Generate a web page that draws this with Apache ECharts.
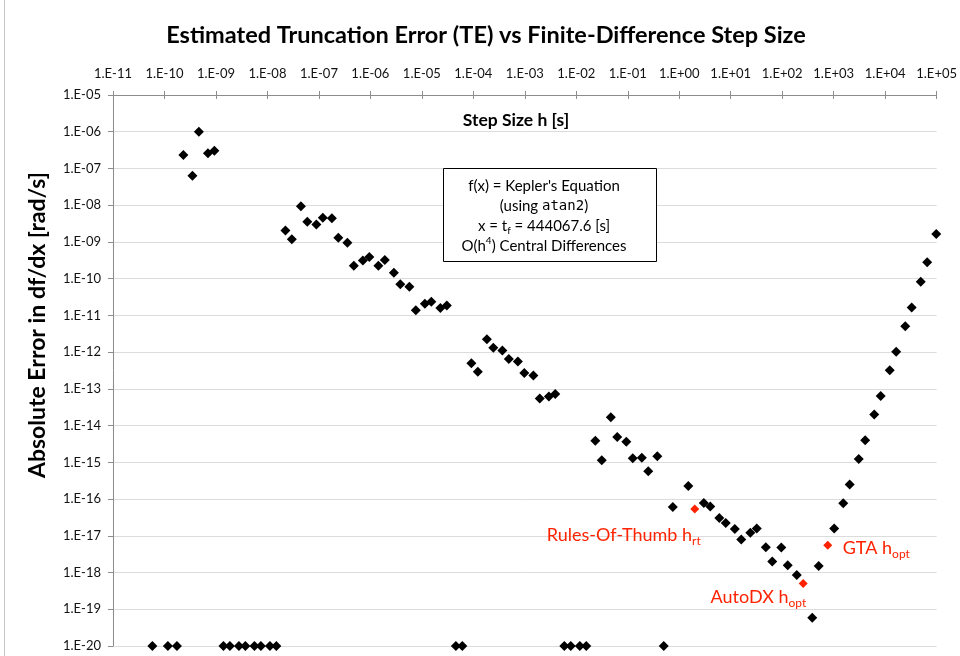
<!DOCTYPE html>
<html>
<head>
<meta charset="utf-8">
<script src="https://cdn.jsdelivr.net/npm/echarts@6/dist/echarts.min.js"></script>
<style>
  html, body { margin: 0; padding: 0; background: #ffffff; }
  #chart { width: 960px; height: 656px; }
</style>
</head>
<body>
<div id="chart"></div>
<script>
// Finite-difference step sizes h [s] (powers of two and 1.5x powers of two)
const stepSizes = [
  5.821e-11, 1.164e-10, 1.746e-10, 2.328e-10, 3.492e-10, 4.657e-10, 6.985e-10, 9.313e-10,
  1.397e-9, 1.863e-9, 2.794e-9, 3.725e-9, 5.588e-9, 7.451e-9, 1.118e-8, 1.490e-8,
  2.235e-8, 2.980e-8, 4.470e-8, 5.960e-8, 8.941e-8, 1.192e-7, 1.788e-7, 2.384e-7,
  3.576e-7, 4.768e-7, 7.153e-7, 9.537e-7, 1.431e-6, 1.907e-6, 2.861e-6, 3.815e-6,
  5.722e-6, 7.629e-6, 1.144e-5, 1.526e-5, 2.289e-5, 3.052e-5, 4.578e-5, 6.104e-5,
  9.155e-5, 1.221e-4, 1.831e-4, 2.441e-4, 3.662e-4, 4.883e-4, 7.324e-4, 9.766e-4,
  1.465e-3, 1.953e-3, 2.930e-3, 3.906e-3, 5.859e-3, 7.813e-3, 1.172e-2, 1.5625e-2,
  2.344e-2, 3.125e-2, 4.688e-2, 6.25e-2, 9.375e-2, 0.125, 0.1875, 0.25,
  0.375, 0.5, 0.75, 1.5, 3, 4, 6, 8,
  12, 16, 24, 32, 48, 64, 96, 128,
  192, 384, 512, 1024, 1536, 2048, 3072, 4096,
  6144, 8192, 12288, 16384, 24576, 32768, 49152, 65536,
  98304
];

// Absolute error in df/dx [rad/s]; 1e-20 marks a zero error drawn on the floor
const truncErrors = [
  1e-20, 1e-20, 1e-20, 2.32e-7, 6.3e-8, 1.0e-6, 2.58e-7, 3.04e-7,
  1e-20, 1e-20, 1e-20, 1e-20, 1e-20, 1e-20, 1e-20, 1e-20,
  2.06e-9, 1.19e-9, 9.3e-9, 3.54e-9, 3.0e-9, 4.55e-9, 4.38e-9, 1.30e-9,
  9.5e-10, 2.24e-10, 3.14e-10, 3.87e-10, 2.24e-10, 3.2e-10, 1.44e-10, 7.1e-11,
  6.0e-11, 1.39e-11, 2.07e-11, 2.34e-11, 1.58e-11, 1.85e-11, 1e-20, 1e-20,
  5.0e-13, 2.94e-13, 2.25e-12, 1.32e-12, 1.11e-12, 6.5e-13, 5.6e-13, 2.72e-13,
  2.31e-13, 5.47e-14, 6.2e-14, 7.3e-14, 1e-20, 1e-20, 1e-20, 1e-20,
  3.88e-15, 1.14e-15, 1.69e-14, 4.92e-15, 3.64e-15, 1.29e-15, 1.33e-15, 5.7e-16,
  1.47e-15, 1e-20, 6.1e-17, 2.28e-16, 7.8e-17, 6.3e-17, 3.06e-17, 2.23e-17,
  1.53e-17, 7.9e-18, 1.22e-17, 1.57e-17, 4.87e-18, 1.99e-18, 4.78e-18, 1.57e-18,
  8.6e-19, 5.9e-20, 1.51e-18, 1.57e-17, 7.7e-17, 2.48e-16, 1.24e-15, 4.0e-15,
  2.0e-14, 6.4e-14, 3.23e-13, 1.02e-12, 5.1e-12, 1.65e-11, 8.2e-11, 2.82e-10,
  1.64e-9
];

// Highlighted step-size choices
const markerNames = ['Rules-Of-Thumb h', 'AutoDX h', 'GTA h'];
const markerSubs = ['rt', 'opt', 'opt'];
const markerSteps = [2, 256, 768];
const markerErrors = [5.4e-17, 4.99e-19, 5.5e-18];

// Axis ranges (decades)
const xRange = [1e-11, 1e5];
const yRange = [1e-20, 1e-5];

const FONT = 'Lato, "Open Sans", sans-serif';
const RED = '#ff2200';
const AXIS_GREY = '#8c8c8c';

function sciLabel(v) {
  const e = Math.round(Math.log10(v));
  return '1.E' + (e < 0 ? '-' : '+') + String(Math.abs(e)).padStart(2, '0');
}

const blackData = stepSizes.map((h, i) => [h, truncErrors[i]]);

// label placement for each highlighted point, relative to its symbol box
const markerLabelPlacement = [
  { position: [10.5, 30.5], align: 'right' },
  { position: [7.5, 18.5], align: 'right' },
  { position: [19.5, 7.5], align: 'left' }
];

const redData = markerSteps.map((h, i) => ({
  value: [h, markerErrors[i]],
  name: markerNames[i],
  label: {
    show: true,
    position: markerLabelPlacement[i].position,
    align: markerLabelPlacement[i].align,
    verticalAlign: 'middle',
    formatter: '{n|' + markerNames[i] + '}{s|' + markerSubs[i] + '}',
    rich: {
      n: { fontFamily: FONT, fontSize: 18, color: RED, lineHeight: 24 },
      s: { fontFamily: FONT, fontSize: 12, color: RED, lineHeight: 14, verticalAlign: 'bottom' }
    }
  }
}));

const chart = echarts.init(document.getElementById('chart'), null, { renderer: 'canvas' });

const logX = {
  type: 'log',
  logBase: 10,
  position: 'top',
  min: xRange[0],
  max: xRange[1],
  interval: 1,
  splitNumber: 16
};

chart.setOption({
  backgroundColor: '#ffffff',
  animation: false,
  textStyle: { fontFamily: FONT },
  grid: { left: 113, right: 22, top: 95, bottom: 10, containLabel: false },
  xAxis: [
    Object.assign({}, logX, {
      axisLine: { show: true, lineStyle: { color: AXIS_GREY, width: 1 } },
      axisTick: { show: true, length: 4, lineStyle: { color: AXIS_GREY } },
      axisLabel: { color: '#111111', fontSize: 13, fontFamily: FONT, margin: 15, formatter: sciLabel },
      splitLine: { show: false }
    }),
    // inner half of the crossing tick marks on the top axis
    Object.assign({}, logX, {
      axisLine: { show: false },
      axisTick: { show: true, inside: true, length: 4, lineStyle: { color: AXIS_GREY } },
      axisLabel: { show: false },
      splitLine: { show: false }
    })
  ],
  yAxis: {
    type: 'log',
    logBase: 10,
    min: yRange[0],
    max: yRange[1],
    interval: 1,
    splitNumber: 15,
    axisLine: { show: true, lineStyle: { color: AXIS_GREY, width: 1 } },
    axisTick: { show: true, length: 5, lineStyle: { color: AXIS_GREY } },
    axisLabel: { color: '#111111', fontSize: 13, fontFamily: FONT, margin: 12, formatter: sciLabel },
    splitLine: { show: true, lineStyle: { color: '#dcdcdc', width: 1 } }
  },
  series: [
    {
      name: 'TE',
      type: 'scatter',
      symbol: 'diamond',
      symbolSize: 10,
      clip: false,
      xAxisIndex: 0,
      itemStyle: { color: '#000000', opacity: 1 },
      data: blackData,
      z: 3
    },
    {
      name: 'Step choices',
      type: 'scatter',
      symbol: 'diamond',
      symbolSize: 9,
      clip: false,
      xAxisIndex: 0,
      itemStyle: { color: RED, opacity: 1 },
      data: redData,
      z: 4
    }
  ],
  graphic: [
    {
      type: 'line',
      shape: { x1: 4.5, y1: 0, x2: 4.5, y2: 656 },
      style: { stroke: '#c8c8c8', lineWidth: 1 }
    },
    {
      type: 'text',
      x: 486, y: 35,
      style: {
        text: 'Estimated Truncation Error (TE) vs Finite-Difference Step Size',
        fontFamily: FONT, fontSize: 23.5, fontWeight: 'bold', fill: '#000000',
        align: 'center', verticalAlign: 'middle'
      }
    },
    {
      type: 'text',
      x: 516, y: 120,
      style: {
        text: 'Step Size h [s]',
        fontFamily: FONT, fontSize: 17.5, fontWeight: 'bold', fill: '#000000',
        align: 'center', verticalAlign: 'middle'
      }
    },
    {
      type: 'text',
      x: 38, y: 325,
      rotation: Math.PI / 2,
      style: {
        text: 'Absolute Error in df/dx [rad/s]',
        fontFamily: FONT, fontSize: 23, fontWeight: 'bold', fill: '#000000',
        align: 'center', verticalAlign: 'middle'
      }
    },
    {
      type: 'rect',
      z: 10,
      shape: { x: 443.5, y: 168.5, width: 213, height: 93 },
      style: { fill: '#ffffff', stroke: '#000000', lineWidth: 1 }
    },
    {
      type: 'text',
      x: 544, y: 216,
      z: 11,
      style: {
        text: '{a|f(x) = Kepler\'s Equation}\n{a|(using }{m|atan2}{a|)}\n{a|x = t}{s|f}{a| = 444067.6 [s]}\n{a|O(h}{p|4}{a|) Central Differences}',
        align: 'center', verticalAlign: 'middle',
        rich: {
          a: { fontFamily: FONT, fontSize: 15, fill: '#000000', lineHeight: 20 },
          m: { fontFamily: '"DejaVu Sans Mono", "Liberation Mono", monospace', fontSize: 14, fill: '#000000', lineHeight: 20 },
          s: { fontFamily: FONT, fontSize: 10, fill: '#000000', lineHeight: 12, verticalAlign: 'bottom' },
          p: { fontFamily: FONT, fontSize: 10, fill: '#000000', lineHeight: 14, verticalAlign: 'top' }
        }
      }
    }
  ]
});
</script>
</body>
</html>
